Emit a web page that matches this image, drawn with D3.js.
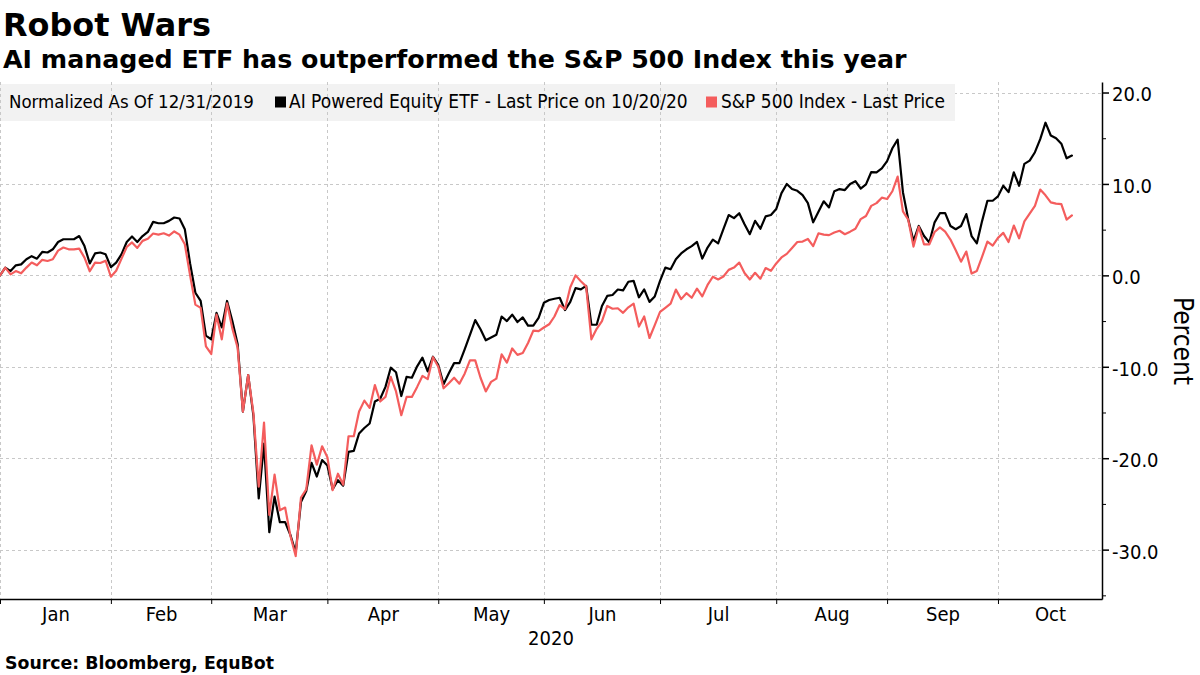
<!DOCTYPE html>
<html>
<head>
<meta charset="utf-8">
<script src="https://cdn.jsdelivr.net/npm/d3@7"></script>
<style>
  body { margin: 0; background: #ffffff; }
  svg { display: block; }
  text { font-family: "DejaVu Sans Condensed", "DejaVu Sans", sans-serif; font-stretch: condensed; fill: #000; }
  .bold { font-family: "DejaVu Sans", sans-serif; font-weight: bold; font-stretch: normal; }
</style>
</head>
<body>
<svg id="chart" width="1200" height="675"></svg>
<script>
// ---------------- data ----------------
const titleText = "Robot Wars";
const subtitleText = "AI managed ETF has outperformed the S&P 500 Index this year";
const sourceText = "Source:  Bloomberg, EquBot";
const legendNote = "Normalized As Of 12/31/2019";
const seriesNames = ["AI Powered Equity ETF - Last Price on 10/20/20", "S&P 500 Index - Last Price"];
const seriesColors = ["#000000", "#f45d5d"];
const axisTitle = "Percent";
const yearLabel = "2020";

const monthLabels = ["Jan", "Feb", "Mar", "Apr", "May", "Jun", "Jul", "Aug", "Sep", "Oct"];
// trading-day index (0 = 12/31/2019) of each month boundary tick
const monthTickIndex = [0, 21, 40, 62, 83, 103, 125, 147, 168, 189];

const yTicks = [20, 10, 0, -10, -20, -30];
const yMinorTicks = [15, 5, -5, -15, -25, -35];

// daily values, percent change since 12/31/2019 (one per trading day through 10/20/2020)
const aiEtf = [
  0, 0.85, 0.47, 1.1, 1.2, 1.76, 2.1, 1.83, 2.56, 2.5,
  2.85, 3.65, 3.95, 3.95, 3.95, 4.3, 3.2, 1.3, 2.4, 2.5,
  2.3, 0.9, 1.4, 2.3, 3.65, 4.25, 3.65, 4.3, 4.75, 5.85,
  5.7, 5.7, 5.96, 6.33, 6.22, 5.05, 1.3, -1.9, -2.8, -6.6,
  -7.0, -4.1, -5.7, -2.8, -5.0, -7.5, -14.9, -10.9, -15.4, -24.4,
  -18.4, -28.1, -24.2, -27.0, -27.0, -28.4, -30.3, -24.8, -23.6, -20.5,
  -22.0, -20.2, -20.8, -23.4, -22.4, -23.0, -19.3, -19.2, -17.3, -16.7,
  -16.2, -13.8, -13.5, -12.2, -10.1, -10.6, -13.2, -11.1, -11.2, -9.95,
  -9.0, -10.5, -8.9, -9.8, -11.9, -10.7, -9.6, -9.6, -8.1, -6.5,
  -4.9, -5.9, -7.1, -6.8, -6.5, -4.5, -5.0, -4.3, -5.1, -4.6,
  -5.5, -5.5, -4.65, -3.0, -2.7, -2.56, -2.45, -3.8, -2.9, -1.4,
  -1.54, -1.15, -5.4, -5.4, -3.35, -2.25, -2.15, -1.55, -1.65, -0.7,
  -0.6, -2.4, -1.54, -2.9, -2.3, -0.6, 0.85, 0.66, 1.76, 2.4,
  2.85, 3.2, 3.65, 1.83, 3.04, 3.9, 3.5, 5.05, 6.6, 6.26,
  6.8, 5.6, 4.5, 5.96, 5.1, 6.45, 6.6, 7.25, 9.0, 10.0,
  9.44, 9.25, 8.78, 7.9, 5.8, 6.95, 8.1, 7.43, 9.2, 9.44,
  9.33, 10.0, 10.3, 9.5, 9.95, 11.3, 11.27, 11.7, 12.5, 13.9,
  14.85, 9.1, 6.15, 3.77, 5.4, 4.3, 3.6, 5.8, 6.8, 6.8,
  5.4, 5.05, 5.4, 6.7, 4.3, 3.5, 5.96, 8.16, 8.16, 8.64,
  9.8, 9.1, 11.27, 9.8, 12.2, 12.55, 13.47, 14.9, 16.7, 15.3,
  15.0, 14.4, 12.8, 13.1
];
const sp500 = [
  0, 0.85, 0.1, 0.47, 0.22, 0.85, 1.4, 1.1, 1.7, 1.57,
  1.76, 2.7, 3.04, 2.85, 2.85, 2.93, 1.94, 0.45, 1.4, 1.35,
  1.6, -0.15, 0.5, 1.8, 3.1, 3.6, 3.0, 3.77, 4.0, 4.58,
  4.45, 4.6, 4.35, 4.8, 4.45, 3.4, 0.0, -3.2, -3.55, -7.76,
  -8.6, -4.3, -7.0, -3.05, -5.8, -7.9, -14.9, -10.9, -15.1, -23.1,
  -16.1, -26.2, -21.8, -25.7, -25.4, -28.5, -30.7, -24.3, -23.4, -18.6,
  -20.7, -18.7, -19.9, -23.5, -21.7, -22.9, -17.6, -17.6, -14.9, -13.7,
  -14.5, -12.0, -13.8, -13.3, -11.1, -12.7, -15.3, -13.3, -13.3, -12.2,
  -11.0, -11.35, -8.95, -10.0, -12.35, -11.8, -11.2, -11.85, -10.75, -9.3,
  -9.3, -11.2, -12.7, -11.65, -11.3, -8.65, -9.55, -8.0, -8.7, -8.5,
  -7.4, -6.05, -6.1, -5.7, -5.35, -4.5, -3.25, -3.7, -1.3, 0.0,
  -0.65, -1.2, -7.0, -5.85, -5.0, -3.35, -3.65, -3.6, -4.1, -3.5,
  -3.1, -5.6, -4.5, -6.85, -5.45, -4.0, -3.55, -3.1, -1.56, -2.6,
  -1.95, -2.45, -1.45, -2.3, -1.05, -0.15, -0.45, -0.12, 0.6, 0.85,
  1.4, 0.25, -0.45, 0.28, -0.36, 0.8, 0.5, 1.3, 1.96, 2.35,
  3.0, 3.65, 3.7, 3.98, 3.2, 4.6, 4.45, 4.4, 4.68, 4.88,
  4.5, 4.78, 5.1, 6.15, 6.5, 7.6, 7.9, 8.5, 8.35, 9.2,
  10.8, 7.0, 6.1, 3.15, 5.3, 3.38, 3.4, 4.74, 5.25, 4.78,
  3.92, 2.75, 1.5, 2.6, 0.2, 0.48, 2.05, 3.7, 3.25, 4.1,
  4.65, 3.65, 5.45, 4.05, 5.9, 6.75, 7.6, 9.38, 8.75, 7.98,
  7.84, 7.8, 6.1, 6.55
];

// ---------------- layout ----------------
const W = 1200, H = 675;
const plot = { left: 0, right: 1102, top: 82, bottom: 599 };
const xEnd = 208.7;               // x-domain end (trading days)
const yDomain = [-35.4, 21.15];

const svg = d3.select("#chart");

const x = d3.scaleLinear().domain([0, xEnd]).range([plot.left, plot.right]);
const y = d3.scaleLinear().domain(yDomain).range([plot.bottom, plot.top]);

function fit(sel, targetW, base) {
  sel.style("font-size", base + "px");
  const L = sel.node().getComputedTextLength();
  sel.style("font-size", (base * targetW / L).toFixed(2) + "px");
  return sel;
}

// titles
fit(svg.append("text").attr("class", "bold").attr("x", 3).attr("y", 36).text(titleText), 208, 32);
fit(svg.append("text").attr("class", "bold").attr("x", 3).attr("y", 68).text(subtitleText), 904, 24);

// horizontal gridlines
const grid = svg.append("g").attr("stroke", "#c8c8c8").attr("stroke-width", 1).attr("stroke-dasharray", "3,3");
grid.selectAll("line.h").data(yTicks).join("line").attr("class", "h")
  .attr("x1", plot.left).attr("x2", plot.right)
  .attr("y1", d => Math.round(y(d)) + 0.5).attr("y2", d => Math.round(y(d)) + 0.5);

// legend background
const legendY = 84, legendH = 37, legendW = 955;
svg.append("rect").attr("x", 0).attr("y", legendY).attr("width", legendW).attr("height", legendH).attr("fill", "#f2f2f2");

// vertical gridlines
const grid2 = svg.append("g").attr("stroke", "#c8c8c8").attr("stroke-width", 1).attr("stroke-dasharray", "3,3");
grid2.selectAll("line.v").data(monthTickIndex).join("line").attr("class", "v")
  .attr("x1", d => Math.round(x(d)) + 0.5).attr("x2", d => Math.round(x(d)) + 0.5)
  .attr("y1", plot.top).attr("y2", plot.bottom);

// legend content
const lg = svg.append("g");
const legBase = 108;
const t0 = lg.append("text").attr("x", 9).attr("y", legBase).text(legendNote);
fit(t0, 245, 17);
const legendItems = [
  { name: seriesNames[0], color: seriesColors[0], sx: 275, tx: 289, w: 399 },
  { name: seriesNames[1], color: seriesColors[1], sx: 706, tx: 721, w: 224 }
];
legendItems.forEach(it => {
  lg.append("rect").attr("x", it.sx).attr("y", legBase - 11.5).attr("width", 11).attr("height", 11).attr("fill", it.color);
  fit(lg.append("text").attr("x", it.tx).attr("y", legBase).text(it.name), it.w, 17);
});

// lines
const line = d3.line().x((d, i) => x(i)).y(d => y(d));
[[aiEtf, seriesColors[0]], [sp500, seriesColors[1]]].forEach(([vals, col]) => {
  svg.append("path").datum(vals).attr("d", line)
    .attr("fill", "none").attr("stroke", col).attr("stroke-width", 2.2)
    .attr("stroke-linejoin", "round").attr("stroke-linecap", "round");
});

// right axis
const yAxis = svg.append("g").attr("transform", `translate(${plot.right},0)`)
  .call(d3.axisRight(y).tickValues(yTicks).tickSize(7).tickSizeOuter(0).tickPadding(3).tickFormat(d => d.toFixed(1)));
yAxis.select(".domain").attr("stroke", "#000").attr("stroke-width", 1.5);
yAxis.selectAll(".tick line").attr("stroke", "#000").attr("stroke-width", 1.5);
yAxis.selectAll(".tick text").style("font-size", "20px").attr("fill", "#000").attr("dy", "0.42em");

const yMinor = svg.append("g").attr("transform", `translate(${plot.right},0)`)
  .call(d3.axisRight(y).tickValues(yMinorTicks).tickSize(4).tickFormat(""));
yMinor.select(".domain").remove();
yMinor.selectAll(".tick line").attr("stroke", "#000").attr("stroke-width", 1);

// axis title
const pt = svg.append("text").attr("transform", "translate(1174,341) rotate(90)")
  .attr("text-anchor", "middle").text(axisTitle);
fit(pt, 88, 23);

// bottom axis
const xAxis = svg.append("g").attr("transform", `translate(0,${plot.bottom})`)
  .call(d3.axisBottom(x).tickValues(monthTickIndex).tickSize(5).tickSizeOuter(0).tickFormat(""));
xAxis.select(".domain").attr("stroke", "#000").attr("stroke-width", 1.5);
xAxis.selectAll(".tick line").attr("stroke", "#000").attr("stroke-width", 1);

const mids = monthTickIndex.map((d, i) => (d + (i < monthTickIndex.length - 1 ? monthTickIndex[i + 1] : xEnd)) / 2);
const xLabels = svg.append("g").attr("transform", `translate(0,${plot.bottom})`)
  .call(d3.axisBottom(x).tickValues(mids).tickSize(0).tickPadding(8).tickFormat((d, i) => monthLabels[i]));
xLabels.select(".domain").remove();
xLabels.selectAll(".tick text").style("font-size", "20px").attr("fill", "#000");

svg.append("text").attr("x", 551).attr("y", 645).attr("text-anchor", "middle").style("font-size", "20px").text(yearLabel);

// source
fit(svg.append("text").attr("class", "bold").attr("x", 5).attr("y", 669).text(sourceText), 269, 16);
</script>
</body>
</html>
